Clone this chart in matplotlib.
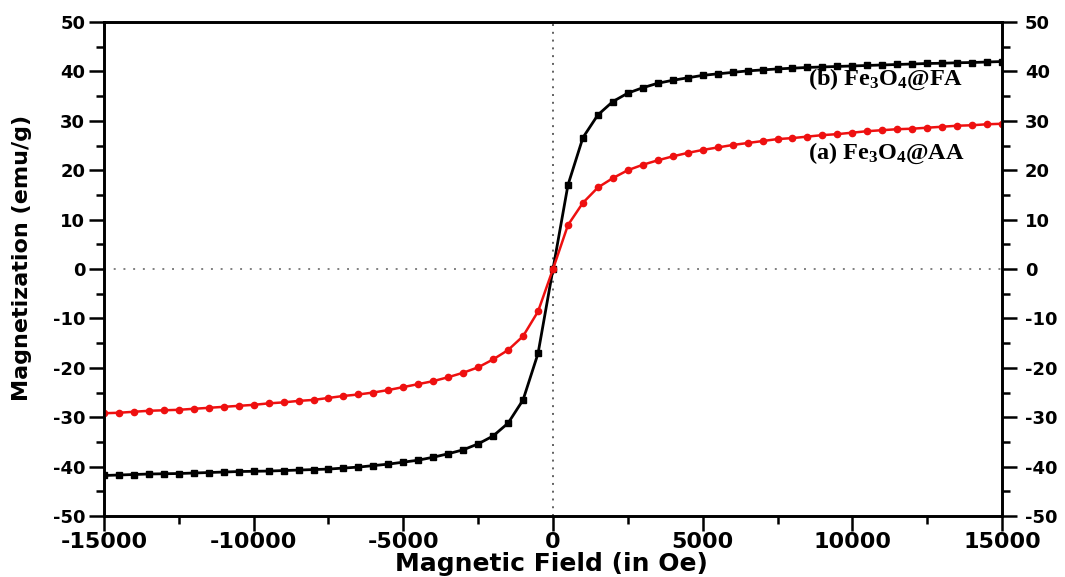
import matplotlib
matplotlib.use('Agg')
import matplotlib.pyplot as plt
import numpy as np
from matplotlib.ticker import MultipleLocator

plt.rcParams['axes.unicode_minus'] = False
plt.rcParams['mathtext.fontset'] = 'custom'
plt.rcParams['mathtext.rm'] = 'Liberation Serif:bold'
plt.rcParams['mathtext.it'] = 'Liberation Serif:bold'
plt.rcParams['mathtext.bf'] = 'Liberation Serif:bold'

# Magnetic field (Oe), 500 Oe steps from -15000 to 15000
field = np.arange(-15000, 15001, 500)

# (b) Fe3O4@FA  (black squares)
m_fa = [-41.8, -41.7, -41.6, -41.5, -41.45, -41.4, -41.3, -41.2, -41.1, -41.0,
        -40.95, -40.9, -40.8, -40.7, -40.6, -40.5,
        -40.3, -40.1, -39.8, -39.5, -39.1, -38.7, -38.1, -37.4, -36.6, -35.4,
        -33.8, -31.2, -26.5, -17.1,
        0.0,
        17.0, 26.6, 31.2, 33.9, 35.6, 36.7, 37.6, 38.2, 38.7, 39.2, 39.5, 39.8,
        40.1, 40.3,
        40.5, 40.65, 40.8, 40.9, 41.0, 41.1, 41.2, 41.3, 41.4, 41.5, 41.6, 41.65,
        41.75, 41.8, 41.9, 42.0]

# (a) Fe3O4@AA  (red circles)
m_aa = [-29.2, -29.1, -28.9, -28.7, -28.6, -28.5, -28.3, -28.1, -27.9, -27.7,
        -27.5, -27.2, -27.0, -26.7, -26.5, -26.1,
        -25.7, -25.4, -25.0, -24.5, -23.9, -23.3, -22.7, -21.9, -21.0, -19.9,
        -18.3, -16.4, -13.6, -8.6,
        0.0,
        8.9, 13.4, 16.5, 18.4, 20.0, 21.1, 22.0, 22.8, 23.5, 24.1, 24.6, 25.1,
        25.5, 25.9,
        26.3, 26.5, 26.8, 27.1, 27.3, 27.6, 27.9, 28.1, 28.3, 28.4, 28.6, 28.8,
        29.0, 29.1, 29.3, 29.4]

label_fa = "(b) Fe$_3$O$_4$@FA"
label_aa = "(a) Fe$_3$O$_4$@AA"

W, H = 1065, 577
fig = plt.figure(figsize=(W / 100, H / 100), dpi=100)
L, R, T, B = 104, 1002, 22, 516
ax = fig.add_axes([L / W, 1 - B / H, (R - L) / W, (B - T) / H])

ax.axhline(0, color='#808080', lw=1.4, ls=(0, (1, 4)), zorder=1)
ax.axvline(0, color='#606060', lw=1.4, ls=(0, (1, 3)), zorder=1)

ax.plot(field, m_fa, color='black', lw=2.0, marker='s', ms=4.2, zorder=3)
ax.plot(field, m_aa, color='#ee1010', lw=1.8, marker='o', ms=4.5, zorder=3)

ax.set_xlim(-15000, 15000)
ax.set_ylim(-50, 50)
ax.xaxis.set_major_locator(MultipleLocator(5000))
ax.xaxis.set_minor_locator(MultipleLocator(2500))
ax.yaxis.set_major_locator(MultipleLocator(10))
ax.yaxis.set_minor_locator(MultipleLocator(5))

for s in ax.spines.values():
    s.set_linewidth(1.9)

ax.tick_params(axis='both', which='major', direction='out', length=10.5, width=1.8)
ax.tick_params(axis='both', which='minor', direction='out', length=5.5, width=1.8)
ax.tick_params(axis='x', labelsize=16, pad=1)
ax.tick_params(axis='y', labelsize=13, pad=3)
for lab in ax.get_xticklabels() + ax.get_yticklabels():
    lab.set_fontweight('bold')

ax2 = ax.twinx()
ax2.set_ylim(-50, 50)
ax2.yaxis.set_major_locator(MultipleLocator(10))
ax2.yaxis.set_minor_locator(MultipleLocator(5))
ax2.tick_params(axis='y', which='major', direction='out', length=10.5, width=1.8,
                labelsize=13, pad=6)
ax2.tick_params(axis='y', which='minor', direction='out', length=5.5, width=1.8)
for lab in ax2.get_yticklabels():
    lab.set_fontweight('bold')
for s in ax2.spines.values():
    s.set_linewidth(1.9)

ax.text(8520, 37.2, label_fa, family='Liberation Serif', fontweight='bold',
        fontsize=17.5, ha='left', va='baseline', zorder=4)
ax.text(8520, 22.4, label_aa, family='Liberation Serif', fontweight='bold',
        fontsize=17.5, ha='left', va='baseline', zorder=4)

fig.text(22 / W, 1 - 258 / H, 'Magnetization (emu/g)', rotation=90,
         ha='center', va='center', fontsize=16, fontweight='bold')
fig.text(551 / W, 1.5 / H, 'Magnetic Field (in Oe)', ha='center',
         va='bottom', fontsize=18, fontweight='bold')

fig.savefig('out.png', dpi=100)
